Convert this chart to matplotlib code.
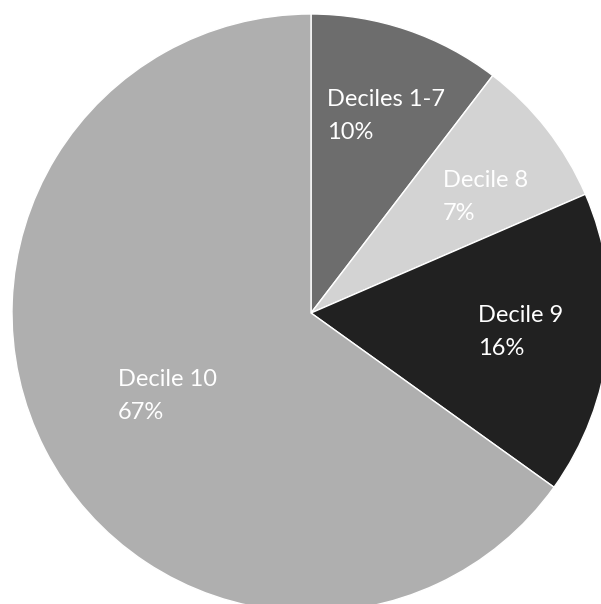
import matplotlib
matplotlib.use("Agg")
from matplotlib import pyplot as plt

# slice shares as measured from the drawing, and the printed labels
names = ["Deciles 1-7", "Decile 8", "Decile 9", "Decile 10"]
shares = [10.4, 8.1, 16.4, 65.1]
pct_text = ["10%", "7%", "16%", "67%"]
colors = ["#6d6d6d", "#d3d3d3", "#212121", "#afafaf"]

W, H = 601, 604
fig = plt.figure(figsize=(W / 100, H / 100), dpi=100)
ax = fig.add_axes([0, 0, 1, 1])

cx, cy, r = 311, H - 313, 299
ax.pie(shares, colors=colors, startangle=90, counterclock=False,
       center=(cx, cy), radius=r,
       wedgeprops=dict(edgecolor="white", linewidth=1.0))
ax.set_xlim(0, W)
ax.set_ylim(0, H)
ax.set_aspect("equal")
ax.axis("off")

# label anchor points (left edge, middle of the two lines), in pixels
label_pos = [(327, 116), (443, 197), (478, 332), (118, 396)]
for name, pct, (x, y) in zip(names, pct_text, label_pos):
    ax.text(x, H - y, name + "\n" + pct, color="white", fontsize=17,
            family="Lato", ha="left", va="center", linespacing=1.65)

fig.savefig("out.png", dpi=100)
